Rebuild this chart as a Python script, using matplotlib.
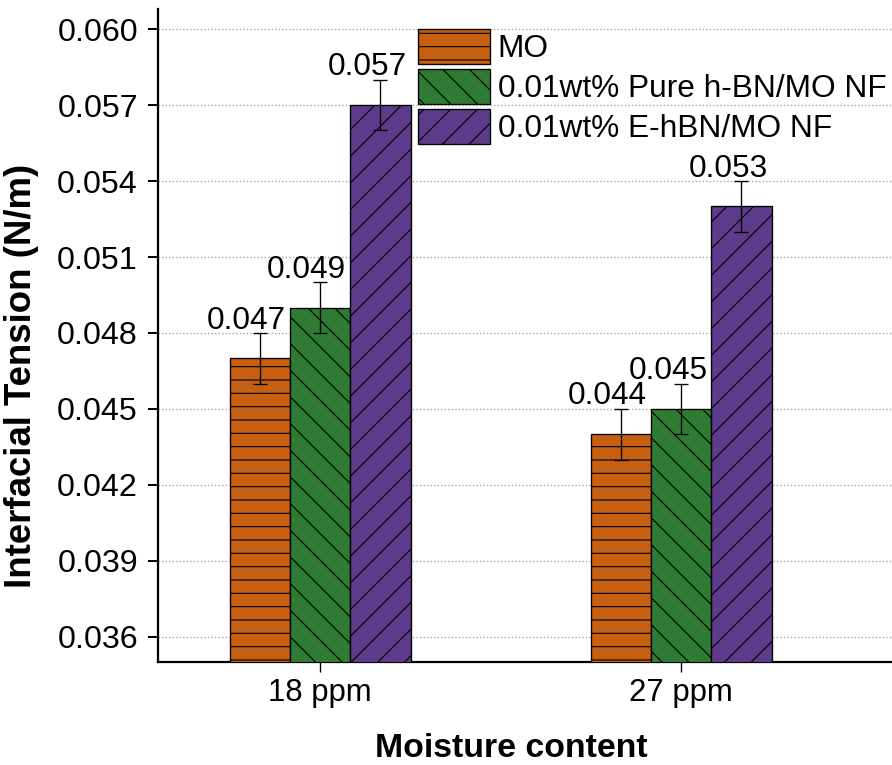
import numpy as np
import matplotlib
matplotlib.use('Agg')
from matplotlib import pyplot as plt

plt.rcParams['font.family'] = ['Liberation Sans', 'DejaVu Sans']
plt.rcParams['hatch.linewidth'] = 1.0

# data
groups = ['18 ppm', '27 ppm']
series = ['MO', '0.01wt% Pure h-BN/MO NF', '0.01wt% E-hBN/MO NF']
values = [
    [0.047, 0.044],
    [0.049, 0.045],
    [0.057, 0.053],
]
errors = [
    [0.001, 0.001],
    [0.001, 0.001],
    [0.001, 0.001],
]
colors = ['#C65F10', '#2F7B34', '#5C3C8A']
hatches = ['-', '\\', '/']
yticks = [0.036, 0.039, 0.042, 0.045, 0.048, 0.051, 0.054, 0.057, 0.060]

dpi = 80
fig = plt.figure(figsize=(892 / dpi, 765 / dpi), dpi=dpi)
ax = fig.add_axes([158 / 892, 1 - 662 / 765, 1 - 158 / 892, (662 - 9) / 765])

x = np.arange(len(groups))
width = 0.167
for i in range(len(series)):
    pos = x + (i - 1) * width
    ax.bar(pos, values[i], width, color=colors[i], edgecolor='black',
           linewidth=1.2, hatch=hatches[i], label=series[i], zorder=3)
    ax.errorbar(pos, values[i], yerr=errors[i], fmt='none', ecolor='black',
                elinewidth=1.2, capsize=6, capthick=1.2, zorder=4)
    for p, v, e in zip(pos, values[i], errors[i]):
        ax.annotate('%.3f' % v, (p, v + e), xytext=(-12, 4),
                    textcoords='offset points', ha='center', va='baseline',
                    fontsize=28.5)

ax.set_xlim(-0.449, 1.584)
ax.set_ylim(0.035, 0.0608)
ax.set_xticks(x)
ax.set_xticklabels(groups)
ax.set_yticks(yticks)
ax.set_yticklabels(['%.3f' % t for t in yticks])
ax.tick_params(axis='y', direction='out', length=9, width=1.8, labelsize=29, pad=9)
ax.tick_params(axis='x', direction='out', length=9, width=1.2, labelsize=28, pad=5)

ax.grid(axis='y', linestyle=':', color='#a0a0a0', linewidth=1.2, zorder=0)
ax.spines['top'].set_visible(False)
ax.spines['right'].set_visible(False)
ax.spines['left'].set_linewidth(2)
ax.spines['bottom'].set_linewidth(2)

ax.set_ylabel('Interfacial Tension (N/m)', fontsize=33, fontweight='bold')
ax.yaxis.set_label_coords(-0.162, 0.438)
ax.set_xlabel('Moisture content', fontsize=30.5, fontweight='bold')
ax.xaxis.set_label_coords(0.481, -0.108)

ax.legend(loc='upper left', bbox_to_anchor=(0.354, 0.97), frameon=False,
          fontsize=28.5, borderpad=0, handlelength=2.27, handleheight=1.32,
          labelspacing=0.16, handletextpad=0.25, borderaxespad=0)

fig.savefig('out.png', dpi=dpi)
